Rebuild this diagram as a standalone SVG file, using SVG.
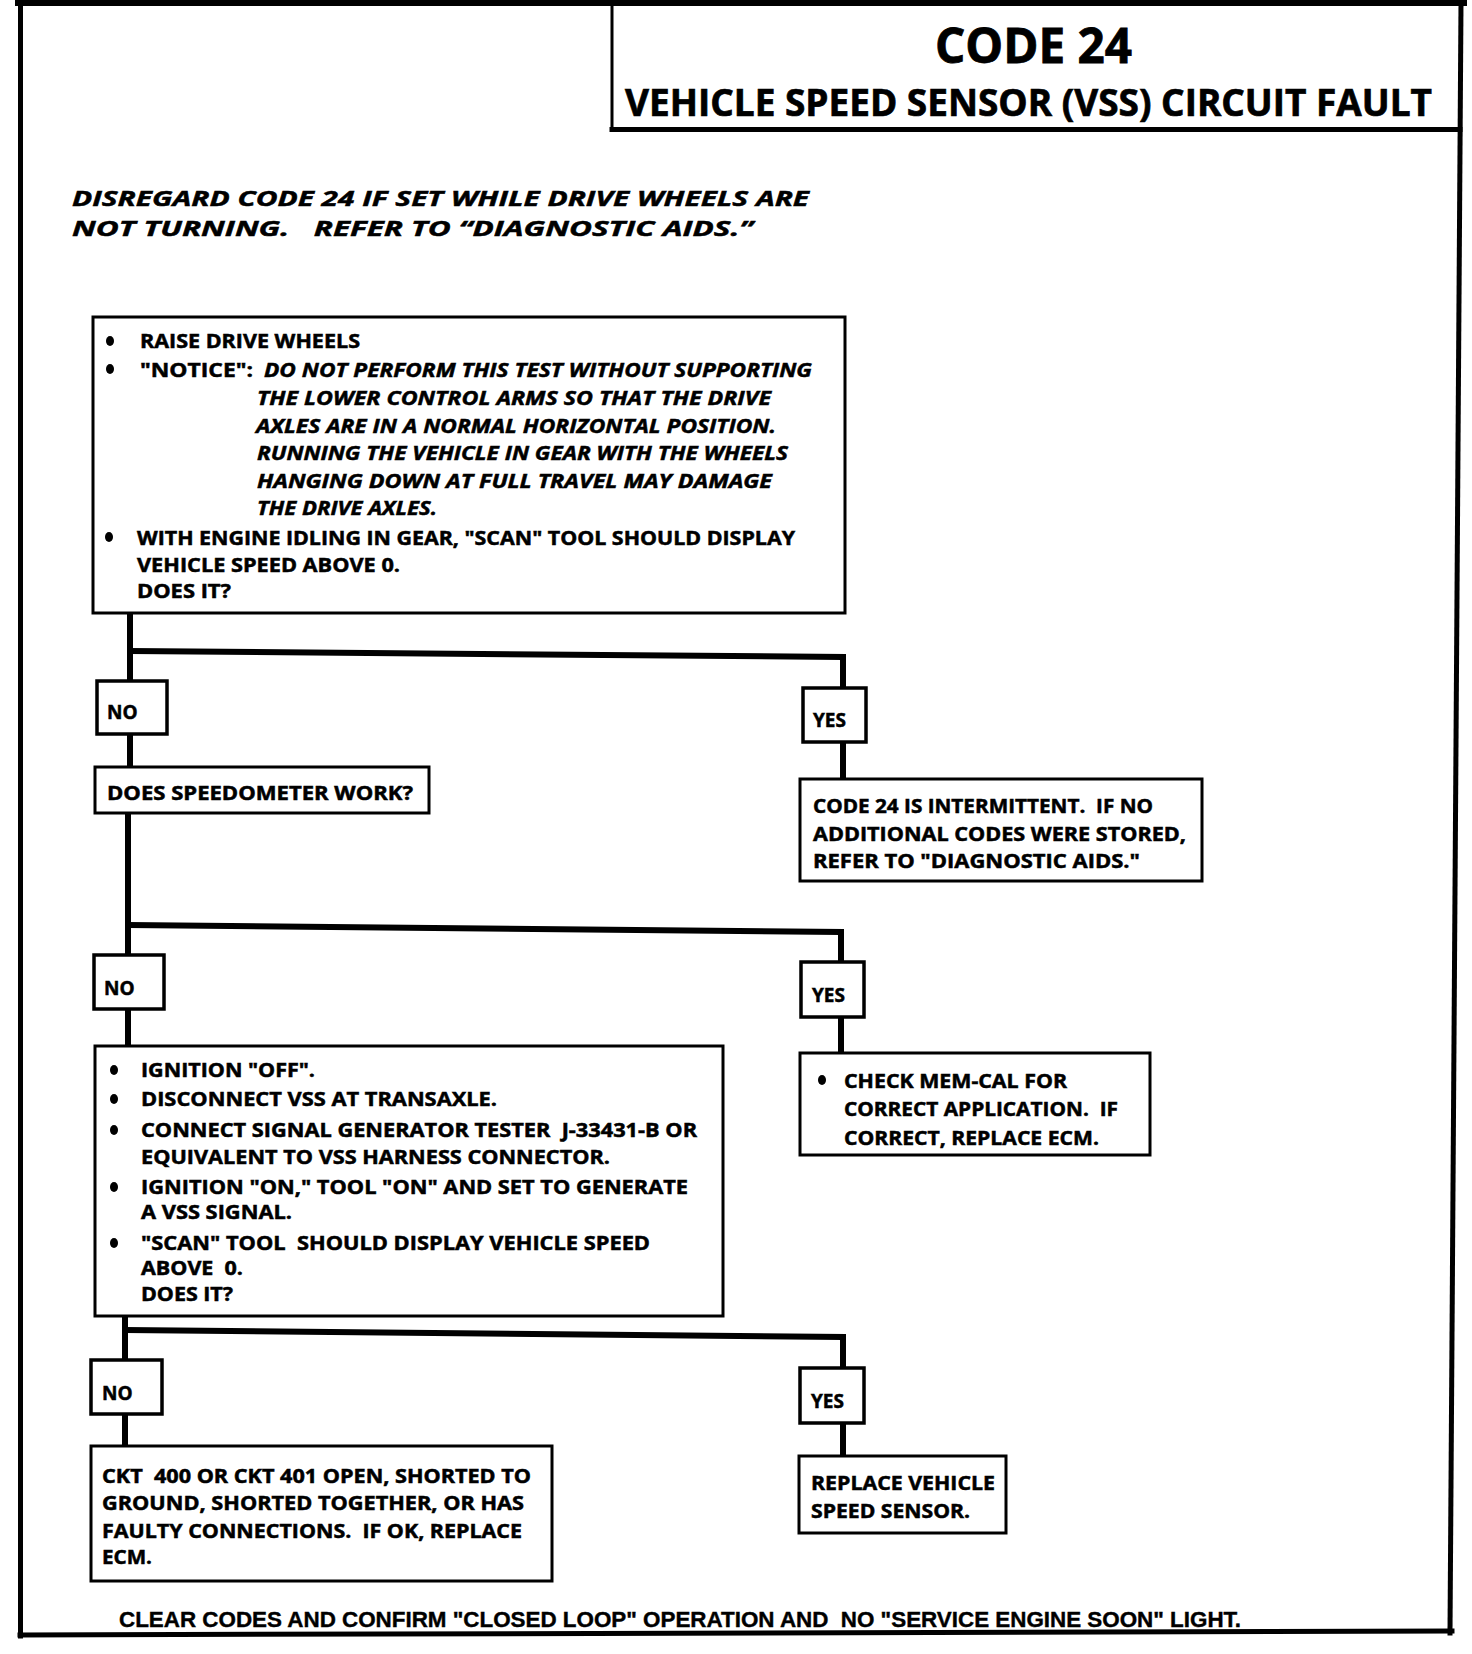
<svg xmlns="http://www.w3.org/2000/svg" width="1472" height="1654" viewBox="0 0 1472 1654">
<style>
.bg{fill:#fff}
.frame{stroke:#000;fill:none;stroke-linecap:square}
.box{fill:#fff;stroke:#000;stroke-width:3}
.lbl{fill:#fff;stroke:#000;stroke-width:3.5}
.conn{fill:none;stroke:#000;stroke-width:6;stroke-linejoin:miter}
.t{font-family:"Open Sans","DejaVu Sans",sans-serif;font-weight:700;font-size:19px;fill:#000;stroke:#000;stroke-width:0.5}
.it{font-style:italic}
.h1{font-size:48px;stroke-width:0.8}
.h2{font-size:38px;stroke-width:0.7}
.dis{font-size:22px;font-style:italic}
.foot{font-family:"Liberation Sans",Arial,sans-serif;font-weight:700;font-size:22px;fill:#000;stroke:#000;stroke-width:0.4}
.bul{fill:#000}
</style>
<rect class="bg" x="0" y="0" width="1472" height="1654"/>

<g id="frame">
  <line class="frame" x1="18" y1="3" x2="1464" y2="3" stroke-width="6"/>
  <line class="frame" x1="20.5" y1="0" x2="20.5" y2="1636" stroke-width="5"/>
  <line class="frame" x1="1461" y1="3" x2="1450" y2="1633" stroke-width="5"/>
  <line class="frame" x1="20" y1="1635" x2="1452" y2="1631" stroke-width="5"/>
</g>

<g id="title">
  <line class="frame" x1="612" y1="3" x2="612" y2="130" stroke-width="3"/>
  <line class="frame" x1="612" y1="129.5" x2="1460" y2="129.5" stroke-width="5"/>
  <text class="t h1" x="935" y="63" textLength="197" lengthAdjust="spacingAndGlyphs">CODE 24</text>
  <text class="t h2" x="625" y="116" textLength="807" lengthAdjust="spacingAndGlyphs">VEHICLE SPEED SENSOR (VSS) CIRCUIT FAULT</text>
</g>

<g id="note">
  <text class="t dis" x="72" y="206" textLength="737" lengthAdjust="spacingAndGlyphs">DISREGARD CODE 24 IF SET WHILE DRIVE WHEELS ARE</text>
  <text class="t dis" x="72" y="236" textLength="681" lengthAdjust="spacingAndGlyphs">NOT TURNING.&#160;&#160; REFER TO “DIAGNOSTIC AIDS.”</text>
</g>

<g id="connectors">
  <polyline class="conn" points="130,613 130,767"/>
  <polyline class="conn" points="130,651 843,657 843,779"/>
  <polyline class="conn" points="128,813 128,1046"/>
  <polyline class="conn" points="128,925 841,932 841,1053"/>
  <polyline class="conn" points="125,1316 125,1446"/>
  <polyline class="conn" points="125,1330 843,1337 843,1456"/>
</g>

<g id="step1">
  <rect class="box" x="93" y="317" width="752" height="296"/>
  <ellipse class="bul" cx="110" cy="341" rx="4" ry="5"/>
  <text class="t" x="140" y="348" textLength="220" lengthAdjust="spacingAndGlyphs">RAISE DRIVE WHEELS</text>
  <ellipse class="bul" cx="110" cy="369" rx="4" ry="5"/>
  <text class="t" x="140" y="377" textLength="113" lengthAdjust="spacingAndGlyphs">"NOTICE":</text>
  <text class="t it" x="264" y="377" textLength="548" lengthAdjust="spacingAndGlyphs">DO NOT PERFORM THIS TEST WITHOUT SUPPORTING</text>
  <text class="t it" x="257" y="405" textLength="514" lengthAdjust="spacingAndGlyphs">THE LOWER CONTROL ARMS SO THAT THE DRIVE</text>
  <text class="t it" x="256" y="433" textLength="520" lengthAdjust="spacingAndGlyphs">AXLES ARE IN A NORMAL HORIZONTAL POSITION.</text>
  <text class="t it" x="257" y="460" textLength="531" lengthAdjust="spacingAndGlyphs">RUNNING THE VEHICLE IN GEAR WITH THE WHEELS</text>
  <text class="t it" x="257" y="488" textLength="515" lengthAdjust="spacingAndGlyphs">HANGING DOWN AT FULL TRAVEL MAY DAMAGE</text>
  <text class="t it" x="257" y="515" textLength="180" lengthAdjust="spacingAndGlyphs">THE DRIVE AXLES.</text>
  <ellipse class="bul" cx="109" cy="537" rx="4" ry="5"/>
  <text class="t" x="137" y="545" textLength="658" lengthAdjust="spacingAndGlyphs">WITH ENGINE IDLING IN GEAR, "SCAN" TOOL SHOULD DISPLAY</text>
  <text class="t" x="137" y="572" textLength="263" lengthAdjust="spacingAndGlyphs">VEHICLE SPEED ABOVE 0.</text>
  <text class="t" x="137" y="598" textLength="94" lengthAdjust="spacingAndGlyphs">DOES IT?</text>
</g>

<g id="no1">
  <rect class="lbl" x="97" y="681" width="70" height="53"/>
  <text class="t" x="107" y="719">NO</text>
</g>
<g id="yes1">
  <rect class="lbl" x="803" y="688" width="63" height="54"/>
  <text class="t" x="813" y="727">YES</text>
</g>

<g id="step2">
  <rect class="box" x="95" y="767" width="334" height="46"/>
  <text class="t" x="107" y="800" textLength="306" lengthAdjust="spacingAndGlyphs">DOES SPEEDOMETER WORK?</text>
</g>

<g id="intermittent">
  <rect class="box" x="800" y="779" width="402" height="102"/>
  <text class="t" x="813" y="813" textLength="340" lengthAdjust="spacingAndGlyphs">CODE 24 IS INTERMITTENT.&#160; IF NO</text>
  <text class="t" x="813" y="841" textLength="373" lengthAdjust="spacingAndGlyphs">ADDITIONAL CODES WERE STORED,</text>
  <text class="t" x="813" y="868" textLength="327" lengthAdjust="spacingAndGlyphs">REFER TO "DIAGNOSTIC AIDS."</text>
</g>

<g id="no2">
  <rect class="lbl" x="94" y="955" width="70" height="54"/>
  <text class="t" x="104" y="995">NO</text>
</g>
<g id="yes2">
  <rect class="lbl" x="801" y="962" width="63" height="55"/>
  <text class="t" x="812" y="1002">YES</text>
</g>

<g id="memcal">
  <rect class="box" x="800" y="1053" width="350" height="102"/>
  <ellipse class="bul" cx="822" cy="1080" rx="4" ry="5"/>
  <text class="t" x="844" y="1088" textLength="223" lengthAdjust="spacingAndGlyphs">CHECK MEM-CAL FOR</text>
  <text class="t" x="844" y="1116" textLength="274" lengthAdjust="spacingAndGlyphs">CORRECT APPLICATION.&#160; IF</text>
  <text class="t" x="844" y="1145" textLength="255" lengthAdjust="spacingAndGlyphs">CORRECT, REPLACE ECM.</text>
</g>

<g id="step3">
  <rect class="box" x="95" y="1046" width="628" height="270"/>
  <ellipse class="bul" cx="114" cy="1070" rx="4" ry="5"/>
  <text class="t" x="141" y="1077" textLength="174" lengthAdjust="spacingAndGlyphs">IGNITION "OFF".</text>
  <ellipse class="bul" cx="114" cy="1099" rx="4" ry="5"/>
  <text class="t" x="141" y="1106" textLength="356" lengthAdjust="spacingAndGlyphs">DISCONNECT VSS AT TRANSAXLE.</text>
  <ellipse class="bul" cx="114" cy="1130" rx="4" ry="5"/>
  <text class="t" x="141" y="1137" textLength="556" lengthAdjust="spacingAndGlyphs">CONNECT SIGNAL GENERATOR TESTER&#160; J-33431-B OR</text>
  <text class="t" x="141" y="1164" textLength="469" lengthAdjust="spacingAndGlyphs">EQUIVALENT TO VSS HARNESS CONNECTOR.</text>
  <ellipse class="bul" cx="114" cy="1187" rx="4" ry="5"/>
  <text class="t" x="141" y="1194" textLength="547" lengthAdjust="spacingAndGlyphs">IGNITION "ON," TOOL "ON" AND SET TO GENERATE</text>
  <text class="t" x="141" y="1219" textLength="151" lengthAdjust="spacingAndGlyphs">A VSS SIGNAL.</text>
  <ellipse class="bul" cx="114" cy="1243" rx="4" ry="5"/>
  <text class="t" x="141" y="1250" textLength="509" lengthAdjust="spacingAndGlyphs">"SCAN" TOOL&#160; SHOULD DISPLAY VEHICLE SPEED</text>
  <text class="t" x="141" y="1275" textLength="102" lengthAdjust="spacingAndGlyphs">ABOVE&#160; 0.</text>
  <text class="t" x="141" y="1301" textLength="92" lengthAdjust="spacingAndGlyphs">DOES IT?</text>
</g>

<g id="no3">
  <rect class="lbl" x="91" y="1360" width="71" height="54"/>
  <text class="t" x="102" y="1400">NO</text>
</g>
<g id="yes3">
  <rect class="lbl" x="800" y="1368" width="64" height="55"/>
  <text class="t" x="811" y="1408">YES</text>
</g>

<g id="ckt">
  <rect class="box" x="91" y="1446" width="461" height="135"/>
  <text class="t" x="102" y="1483" textLength="429" lengthAdjust="spacingAndGlyphs">CKT&#160; 400 OR CKT 401 OPEN, SHORTED TO</text>
  <text class="t" x="102" y="1510" textLength="422" lengthAdjust="spacingAndGlyphs">GROUND, SHORTED TOGETHER, OR HAS</text>
  <text class="t" x="102" y="1538" textLength="420" lengthAdjust="spacingAndGlyphs">FAULTY CONNECTIONS.&#160; IF OK, REPLACE</text>
  <text class="t" x="102" y="1564" textLength="50" lengthAdjust="spacingAndGlyphs">ECM.</text>
</g>

<g id="replace">
  <rect class="box" x="799" y="1456" width="207" height="77"/>
  <text class="t" x="811" y="1490" textLength="184" lengthAdjust="spacingAndGlyphs">REPLACE VEHICLE</text>
  <text class="t" x="811" y="1518" textLength="159" lengthAdjust="spacingAndGlyphs">SPEED SENSOR.</text>
</g>

<g id="footer">
  <text class="foot" x="119" y="1627" textLength="1122" lengthAdjust="spacingAndGlyphs">CLEAR CODES AND CONFIRM "CLOSED LOOP" OPERATION AND&#160; NO "SERVICE ENGINE SOON" LIGHT.</text>
</g>
</svg>
